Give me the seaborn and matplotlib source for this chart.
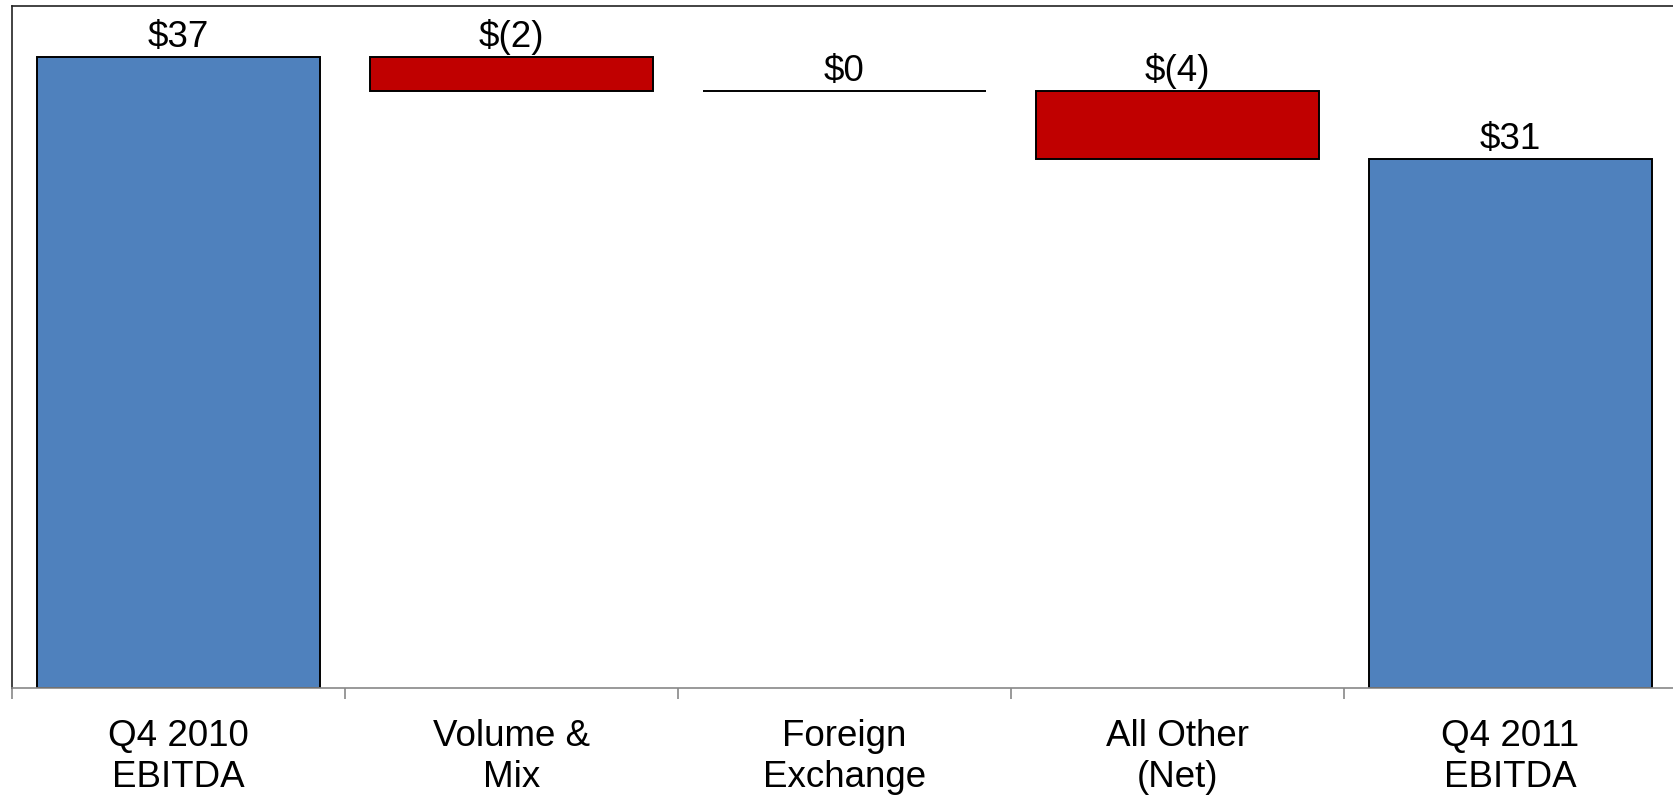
import pandas as pd
import matplotlib.pyplot as plt
import seaborn as sns

# Datos del puente de EBITDA (valores en millones)
categorias = ['Q4 2010\nEBITDA', 'Volume &\nMix', 'Foreign\nExchange', 'All Other\n(Net)', 'Q4 2011\nEBITDA']
valores = [37, -2, 0, -4, 31]
es_total = [True, False, False, False, True]
etiquetas = ['$37', '$(2)', '$0', '$(4)', '$31']

# Se calculan base y altura de cada barra flotante
bases, alturas = [], []
acumulado = 0
for v, total in zip(valores, es_total):
    if total:
        bases.append(0)
        alturas.append(v)
        acumulado = v
    else:
        nuevo = acumulado + v
        bases.append(min(acumulado, nuevo))
        alturas.append(abs(v))
        acumulado = nuevo

df = pd.DataFrame({'cat': categorias, 'altura': alturas, 'base': bases})

sns.set_style('white')
plt.rcParams['font.family'] = ['Liberation Sans', 'DejaVu Sans']

fig = plt.figure(figsize=(16.73, 7.95), dpi=100)
ax = fig.add_axes([12 / 1673, 1 - 688 / 795, 1665 / 1673, 682 / 795])

sns.barplot(data=df, x='cat', y='altura', bottom=df['base'].values, color='#4F81BD',
            saturation=1, width=0.85, edgecolor='black', linewidth=1.4,
            errorbar=None, ax=ax)

for p, total in zip(ax.patches, es_total):
    if not total:
        p.set_facecolor('#C00000')

for i, (b, h, txt) in enumerate(zip(bases, alturas, etiquetas)):
    ax.annotate(txt, (i, b + h), xytext=(0, 1.5), textcoords='offset points',
                ha='center', va='bottom', fontsize=26.5, color='black')

ax.set_ylim(0, 40)
ax.set_xlim(-0.5, 4.5)
ax.set_yticks([])
ax.set_xlabel('')
ax.set_ylabel('')

ax.set_xticks(range(len(categorias)))
ax.set_xticklabels(categorias, fontsize=26.5, linespacing=1.25, color='black')
ax.tick_params(axis='x', which='major', length=0, pad=22)
ax.set_xticks([i - 0.5 for i in range(len(categorias))], minor=True)
ax.tick_params(axis='x', which='minor', length=8, width=1.2, color='#888888', bottom=True)

ax.spines['right'].set_visible(False)
ax.spines['top'].set_color('#222222')
ax.spines['left'].set_color('#222222')
ax.spines['bottom'].set_color('#888888')
for s in ax.spines.values():
    s.set_linewidth(1.2)

fig.savefig('out.png', dpi=100)
